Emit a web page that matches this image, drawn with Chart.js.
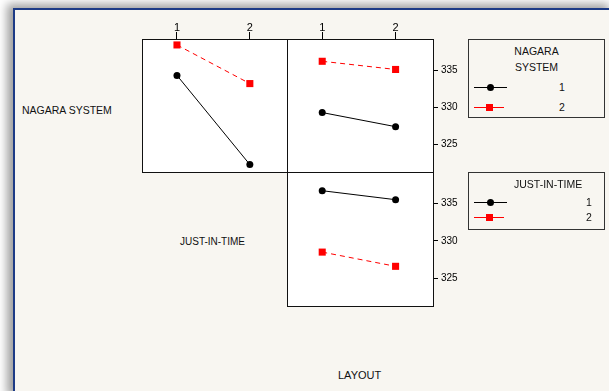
<!DOCTYPE html>
<html>
<head>
<meta charset="utf-8">
<script src="https://cdn.jsdelivr.net/npm/chart.js@4.4.1/dist/chart.umd.min.js"></script>
<style>
  html, body { margin: 0; padding: 0; background: #ffffff; width: 609px; height: 391px; overflow: hidden; }
  #frame { position: absolute; left: 13px; top: 8px; width: 600px; height: 390px;
           border-left: 2px solid #1d3b86; border-top: 2px solid #1d3b86;
           background: #f8f6f1; box-shadow: -6px -4px 9px rgba(0,0,0,0.38); }
  .lbl { position: absolute; font-family: "Liberation Sans", Arial, sans-serif; color: #111; white-space: nowrap; line-height: 1; }
  canvas { position: absolute; }
  .legend { position: absolute; border: 1px solid #333; background: #f8f6f1; }
  .sample { position: absolute; height: 0; }
  .mk { position: absolute; }
</style>
</head>
<body>
<div id="frame"></div>

<div class="lbl" style="left:22px; top:105px; font-size:10.5px;">NAGARA SYSTEM</div>
<div class="lbl" style="left:180px; top:237px; font-size:10px;">JUST-IN-TIME</div>
<div class="lbl" style="left:338px; top:370px; font-size:11px;">LAYOUT</div>

<canvas id="pTL" width="165" height="182" style="left:132px; top:0px;"></canvas>
<canvas id="pTR" width="196" height="182" style="left:277px; top:0px;"></canvas>
<canvas id="pBR" width="196" height="154" style="left:277px; top:162px;"></canvas>

<div class="legend" style="left:468px; top:39px; width:135px; height:77px;">
  <div class="lbl" style="left:0; width:135px; text-align:center; top:6px; font-size:10.5px;">NAGARA</div>
  <div class="lbl" style="left:0; width:135px; text-align:center; top:22px; font-size:10.5px;">SYSTEM</div>
  <div class="sample" style="left:5px; top:47px; width:33px; border-top:1px solid #000;"></div>
  <div class="mk" style="left:18px; top:44px; width:7px; height:7px; border-radius:50%; background:#000;"></div>
  <div class="lbl" style="left:90px; top:42px; font-size:10.5px;">1</div>
  <div class="sample" style="left:5px; top:67px; width:30px; border-top:1px solid #f00;"></div>
  <div class="mk" style="left:17px; top:64px; width:7px; height:7px; background:#f00;"></div>
  <div class="lbl" style="left:90px; top:62px; font-size:10.5px;">2</div>
</div>

<div class="legend" style="left:468px; top:172px; width:135px; height:56px;">
  <div class="lbl" style="left:45px; top:6px; font-size:10.5px;">JUST-IN-TIME</div>
  <div class="sample" style="left:5px; top:29px; width:33px; border-top:1px solid #000;"></div>
  <div class="mk" style="left:18px; top:26px; width:7px; height:7px; border-radius:50%; background:#000;"></div>
  <div class="lbl" style="left:117px; top:24px; font-size:10.5px;">1</div>
  <div class="sample" style="left:5px; top:44px; width:30px; border-top:1px solid #f00;"></div>
  <div class="mk" style="left:17px; top:41px; width:7px; height:7px; background:#f00;"></div>
  <div class="lbl" style="left:117px; top:39px; font-size:10.5px;">2</div>
</div>

<script>
// ---- data ----
const levels = [1, 2];
const xTickLabels = ['1', '2'];
const yTickValues = [325, 330, 335];
const yTickLabels = ['325', '330', '335'];

// Row NAGARA SYSTEM, column JUST-IN-TIME
const nagara1_byJit = [334.3, 322.3];
const nagara2_byJit = [338.4, 333.2];
// Row NAGARA SYSTEM, column LAYOUT
const nagara1_byLayout = [329.3, 327.4];
const nagara2_byLayout = [336.2, 335.1];
// Row JUST-IN-TIME, column LAYOUT
const jit1_byLayout = [336.7, 335.5];
const jit2_byLayout = [328.5, 326.6];

const FONT = "'Liberation Sans', Arial, sans-serif";

const panelPlugin = {
  id: 'panelBox',
  beforeDraw(chart) {
    const a = chart.chartArea, c = chart.ctx;
    c.save();
    c.fillStyle = '#ffffff';
    c.fillRect(a.left, a.top, a.right - a.left, a.bottom - a.top);
    c.restore();
  },
  afterDraw(chart) {
    const a = chart.chartArea, c = chart.ctx;
    c.save();
    c.strokeStyle = '#111';
    c.lineWidth = 1;
    c.strokeRect(a.left + 0.5, a.top + 0.5, a.right - a.left, a.bottom - a.top);
    c.restore();
  }
};

function toPts(vals) { return levels.map((x, i) => ({ x: x, y: vals[i] })); }

function makePanel(id, s1, s2, showTop, showRight) {
  new Chart(document.getElementById(id), {
    type: 'line',
    data: {
      datasets: [
        { data: toPts(s1), borderColor: '#000', backgroundColor: '#000', borderWidth: 1,
          pointStyle: 'circle', pointRadius: 3.5, pointHoverRadius: 3.5, pointBorderWidth: 0, pointBackgroundColor: '#000' },
        { data: toPts(s2), borderColor: '#ff0000', backgroundColor: '#ff0000', borderWidth: 1,
          borderDash: [5, 4], pointStyle: 'rect', pointRadius: 5, pointHoverRadius: 5, pointBorderWidth: 0, pointBackgroundColor: '#ff0000' }
      ]
    },
    options: {
      responsive: false, animation: false, events: [],
      layout: { padding: { left: 10, right: 10, top: 10, bottom: 10 } },
      plugins: { legend: { display: false }, tooltip: { enabled: false } },
      scales: {
        x: {
          type: 'linear', position: 'top', min: 0.52, max: 2.51, display: showTop, bounds: 'data',
          afterBuildTicks: s => { s.ticks = levels.map(v => ({ value: v })); },
          afterFit: s => { s.height = showTop ? 29 : 0; s.paddingLeft = 0; s.paddingRight = 0; },
          ticks: { callback: (v) => xTickLabels[levels.indexOf(v)], color: '#000',
                   font: { family: FONT, size: 11 }, padding: -3, maxRotation: 0, autoSkip: false },
          grid: { drawOnChartArea: false, drawTicks: true, tickLength: 7, color: '#000', lineWidth: 1 },
          border: { display: false }
        },
        y: {
          type: 'linear', position: 'right', min: 321.3, max: 339.2, display: showRight, bounds: 'data',
          afterBuildTicks: s => { s.ticks = yTickValues.map(v => ({ value: v })); },
          afterFit: s => { s.width = showRight ? 30 : 0; s.paddingTop = 0; s.paddingBottom = 0; },
          ticks: { callback: (v) => yTickLabels[yTickValues.indexOf(v)], color: '#000',
                   font: { family: FONT, size: 10 }, padding: 3, autoSkip: false },
          grid: { drawOnChartArea: false, drawTicks: true, tickLength: 5, color: '#000', lineWidth: 1 },
          border: { display: false }
        }
      }
    },
    plugins: [panelPlugin]
  });
}

makePanel('pTL', nagara1_byJit, nagara2_byJit, true, false);
makePanel('pTR', nagara1_byLayout, nagara2_byLayout, true, true);
makePanel('pBR', jit1_byLayout, jit2_byLayout, false, true);
</script>
</body>
</html>
